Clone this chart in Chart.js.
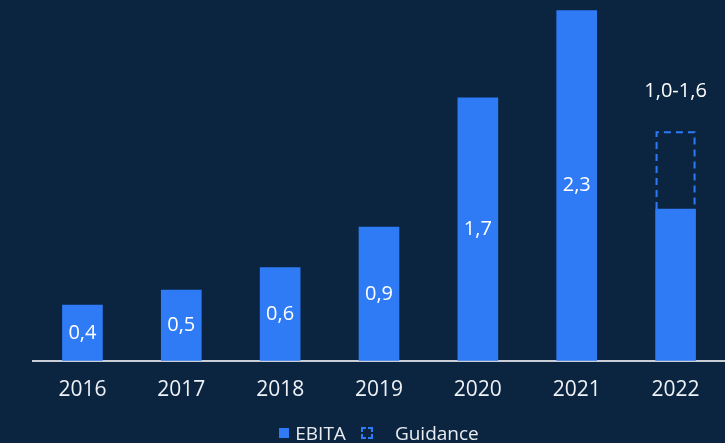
<!DOCTYPE html>
<html>
<head>
<meta charset="utf-8">
<script src="https://cdn.jsdelivr.net/npm/chart.js@4.4.0/dist/chart.umd.min.js"></script>
<style>
  html, body { margin: 0; padding: 0; background: #0b2541; }
  #wrap { position: relative; width: 725px; height: 443px; }
  #legend {
    position: absolute; left: 33px; right: 0; top: 421px; height: 24px;
    display: flex; justify-content: center; align-items: center;
    font-family: "Open Sans", Lato, sans-serif; font-size: 19px; color: #e9edf2;
  }
  #legend span { display: inline-flex; align-items: center; }
  .ebita { display: inline-block; width: 10px; height: 10px; background: #2f7bf6; margin-right: 6px; }
  .guide { display: inline-block; width: 12px; height: 12px; margin-left: 15px; margin-right: 22px; }
</style>
</head>
<body>
<div id="wrap">
  <canvas id="chartCanvas"></canvas>
  <div id="legend"></div>
</div>
<script>
const years = ['2016', '2017', '2018', '2019', '2020', '2021', '2022'];
const ebita = [0.37, 0.47, 0.62, 0.89, 1.75, 2.33, 1.01];
const ebitaLabels = ['0,4', '0,5', '0,6', '0,9', '1,7', '2,3', ''];
const guidance = [null, null, null, null, null, null, [1.01, 1.52]];
const guidanceLabel = '1,0-1,6';

const blue = '#2f7bf6';
const fontFamily = '"Open Sans", Lato, sans-serif';

// draws the values inside the bars + dashed guidance box
const barText = {
  id: 'barText',
  afterDatasetsDraw(chart) {
    const c = chart.ctx;
    const bars = chart.getDatasetMeta(0).data;
    c.save();
    c.fillStyle = '#ffffff';
    c.font = '20px ' + fontFamily;
    c.textAlign = 'center';
    c.textBaseline = 'middle';
    bars.forEach((bar, i) => {
      if (!ebitaLabels[i]) return;
      c.fillText(ebitaLabels[i], bar.x, (bar.y + bar.base) / 2);
    });

    const g = chart.getDatasetMeta(1).data[6];
    const left = g.x - g.width / 2 + 1;
    const right = g.x + g.width / 2 - 1;
    c.strokeStyle = blue;
    c.lineWidth = 2;
    c.setLineDash([7, 5]);
    c.beginPath();
    c.moveTo(left, g.base);
    c.lineTo(left, g.y);
    c.lineTo(right, g.y);
    c.lineTo(right, g.base);
    c.stroke();
    c.setLineDash([]);
    c.fillStyle = '#ffffff';
    c.fillText(guidanceLabel, g.x, g.y - 41);
    c.restore();
  }
};

let ctx = document.querySelector('#chartCanvas');
let graph = new Chart(ctx, {
  type: 'bar',
  data: {
    labels: years,
    datasets: [
      {
        label: 'EBITA',
        data: ebita,
        backgroundColor: blue,
        barThickness: 40,
        grouped: false
      },
      {
        label: 'Guidance',
        data: guidance,
        backgroundColor: 'rgba(0,0,0,0)',
        borderWidth: 0,
        barThickness: 40,
        grouped: false
      }
    ]
  },
  options: {
    responsive: true,
    maintainAspectRatio: false,
    animation: false,
    layout: { padding: { left: 33, right: 0, top: 0, bottom: 31 } },
    scales: {
      x: {
        grid: { display: false },
        border: { display: true, color: '#c9ced6', width: 2 },
        ticks: { color: '#eef1f5', font: { family: fontFamily, size: 21 }, padding: 9 }
      },
      y: {
        display: false,
        min: 0,
        max: 2.4
      }
    },
    plugins: {
      tooltip: { enabled: false },
      legend: { display: false }
    }
  },
  plugins: [barText]
});

// html legend, built from the datasets
const guideIcon = '<svg class="guide" viewBox="0 0 12 12"><rect x="1" y="1" width="10" height="10" fill="none" stroke="' + blue +
  '" stroke-width="2" stroke-dasharray="8 2" stroke-dashoffset="4"/></svg>';
document.getElementById('legend').innerHTML = graph.data.datasets.map((ds, i) =>
  `<span>${i === 0 ? '<i class="ebita"></i>' : guideIcon}${ds.label}</span>`
).join('');
</script>
</body>
</html>
